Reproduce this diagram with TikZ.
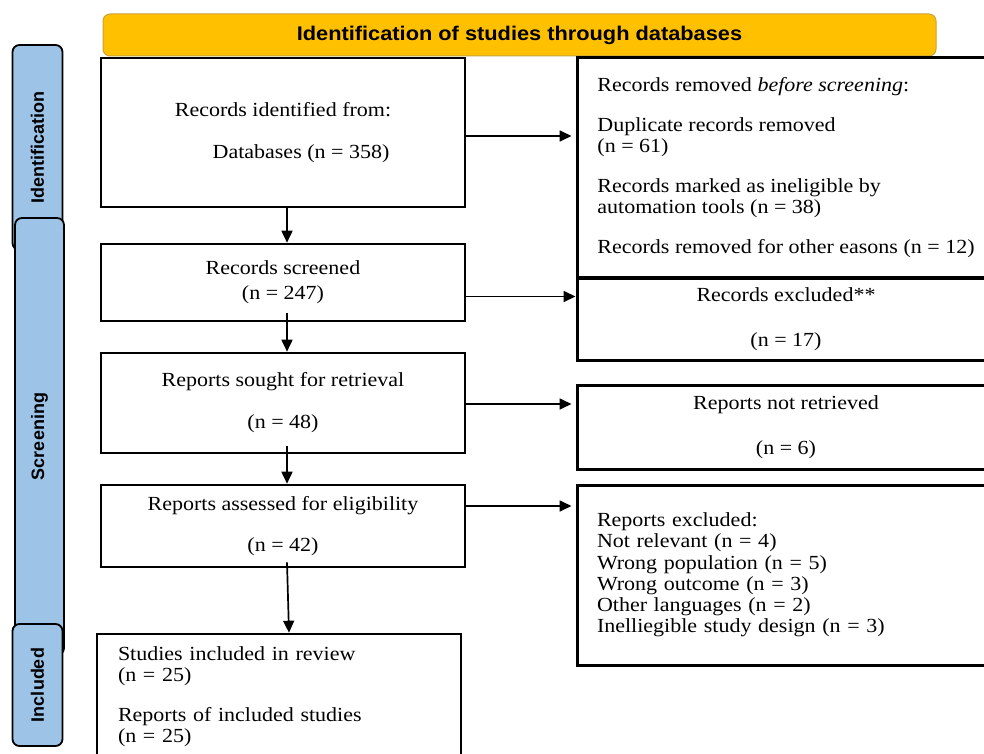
\documentclass[tikz,border=0pt]{standalone}
\usepackage{fontspec}
\setmainfont{Liberation Serif}[FakeStretch=1.1]
\newfontfamily\headfont{Liberation Sans}[FakeStretch=1.1]
\newfontfamily\tabfont{Liberation Sans}
\usetikzlibrary{arrows.meta,positioning}

\definecolor{tabblue}{HTML}{9DC3E6}
\definecolor{headgold}{HTML}{FFC000}
\definecolor{headedge}{HTML}{C9A23A}

\tikzset{
    mainbox/.style={draw, line width=2.6pt, minimum width=364pt, inner ysep=0pt, align=center,
        font=\fontsize{20}{21}\selectfont},
    sidebox/.style={draw, line width=3pt, minimum width=418pt, inner ysep=0pt, align=center,
        font=\fontsize{20}{21}\selectfont},
    phase/.style={draw, line width=1.8pt, rounded corners=7pt, fill=tabblue, rotate=90,
        minimum height=50pt, font=\tabfont\bfseries\fontsize{18}{20}\selectfont},
    arr/.style={-{Triangle[length=12pt,width=11pt]}, line width=1.7pt},
}

\begin{document}
\begin{tikzpicture}[x=1pt,y=-1pt]
    \useasboundingbox (0,0) rectangle (984,754);
    \clip (0,0) rectangle (984,754);

    %Header
    \node[draw=headedge, line width=1pt, fill=headgold, rounded corners=7pt, minimum width=833pt,
        minimum height=42pt, font=\headfont\bfseries\fontsize{19.8}{22}\selectfont] (head) at (519.5,35)
        {Identification of studies through databases};

    %Phases
    \node[phase, minimum width=205pt] (tabIdent) at (37.5,147.5) {Identification};
    \node[phase, minimum width=437pt, minimum height=49pt] (tabScreen) at (39.5,436.5) {Screening};
    \node[phase, minimum width=122pt] (tabIncl) at (37.5,685) {Included};

    %Main column
    \node[mainbox, minimum height=149pt] (ident) at (283,132.5)
        {Records identified from:\\[21pt]\hspace*{36pt}Databases (n = 358)};
    \node[mainbox, minimum height=77pt] (screened) at (283,282.5)
        {Records screened\\[4pt](n = 247)};
    \node[mainbox, minimum height=100pt] (sought) at (283,403)
        {Reports sought for retrieval\\[21pt](n = 48)};
    \node[mainbox, minimum height=82pt] (assessed) at (283,526)
        {Reports assessed for eligibility\\[20pt](n = 42)};
    \node[mainbox, minimum height=126pt, text width=322pt, inner xsep=21pt, align=left] (included) at (279,697)
        {Studies included in review\\(n = 25)\\[19pt]Reports of included studies\\(n = 25)};

    %Side column
    \node[sidebox, minimum height=219pt, align=left] (removed) at (786,167.5)
        {Records removed \textit{before screening}:\\[19pt]Duplicate records removed\\(n = 61)\\[19pt]%
        Records marked as ineligible by\\automation tools (n = 38)\\[19pt]Records removed for other easons (n = 12)};
    \node[sidebox, minimum height=82pt] (excluded) at (786,319)
        {Records excluded**\\[24pt](n = 17)};
    \node[sidebox, minimum height=84pt] (notretr) at (786,427)
        {Reports not retrieved\\[24pt](n = 6)};
    \node[sidebox, minimum height=180pt, text width=378pt, inner xsep=20pt, align=left] (repexcl) at (786,575)
        {Reports excluded:\\Not relevant (n = 4)\\[1pt]Wrong population (n = 5)\\Wrong outcome (n = 3)\\%
        Other languages (n = 2)\\Inelliegible study design (n = 3)};

    %Arrows down
    \draw[arr] ([xshift=4pt]ident.south) -- ([xshift=4pt]ident.south |- screened.north);
    \draw[arr] ([xshift=4pt,yshift=9pt]screened.south) -- ([xshift=4pt]screened.south |- sought.north);
    \draw[arr] ([xshift=4pt,yshift=8pt]sought.south) -- ([xshift=4pt]sought.south |- assessed.north);
    \draw[arr] ([xshift=4pt,yshift=6pt]assessed.south) -- ([xshift=10pt]included.north);

    %Arrows right
    \draw[arr, shorten >=4pt] ([yshift=-3.5pt]ident.east) -- ([yshift=-3.5pt]ident.east -| removed.west);
    \draw[arr] ([yshift=-14pt]screened.east) -- ([yshift=-14pt]screened.east -| excluded.west);
    \draw[arr, shorten >=4pt] ([yshift=-1pt]sought.east) -- ([yshift=-1pt]sought.east -| notretr.west);
    \draw[arr, shorten >=4pt] ([yshift=20pt]assessed.east) -- ([yshift=20pt]assessed.east -| repexcl.west);
\end{tikzpicture}
\end{document}
